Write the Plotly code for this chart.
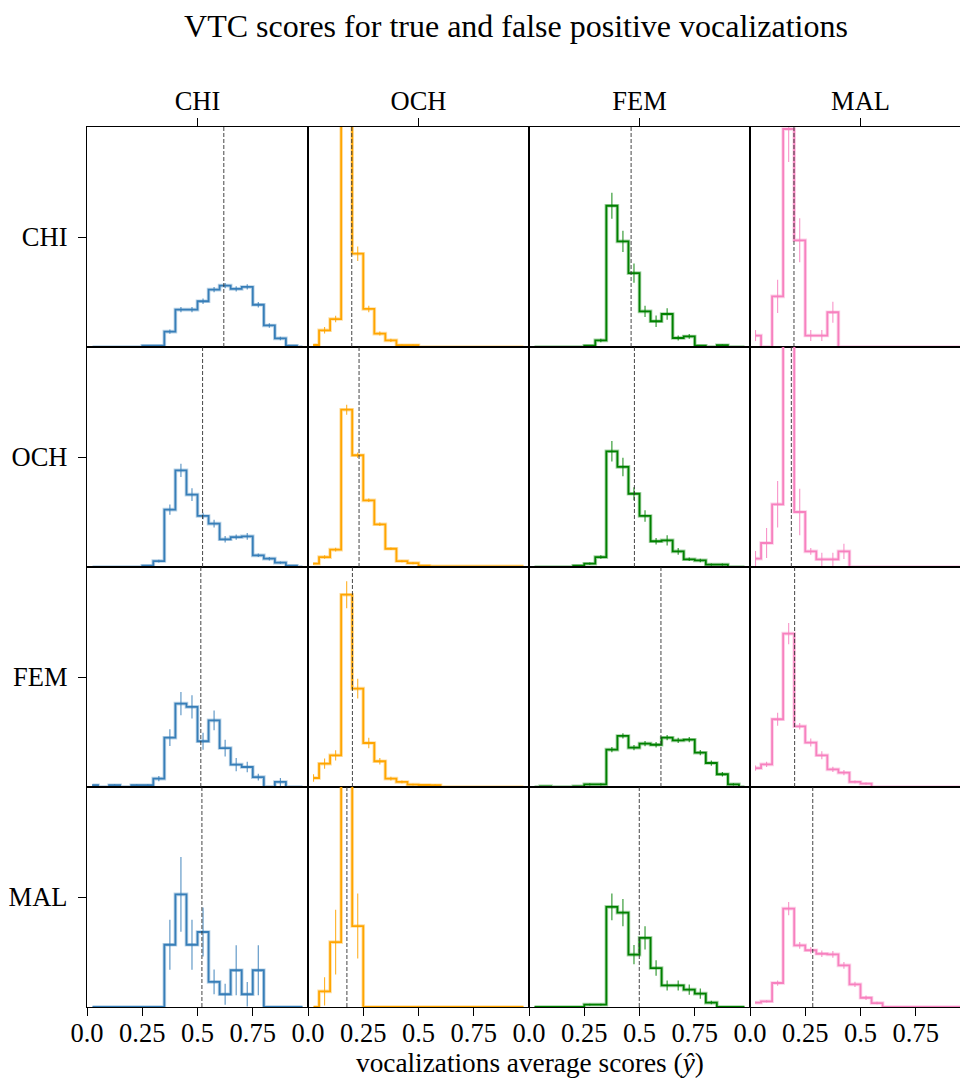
import plotly.graph_objects as go
from plotly.subplots import make_subplots

# ---------------- data ----------------
CLASSES = ["CHI", "OCH", "FEM", "MAL"]
COLORS = ["#377eb8", "#ffa500", "#008000", "#f781bf"]
BIN_CENTERS = [0.025, 0.075, 0.125, 0.175, 0.225, 0.275, 0.325, 0.375, 0.425, 0.475,
               0.525, 0.575, 0.625, 0.675, 0.725, 0.775, 0.825, 0.875, 0.925, 0.975]
X_TICKS = [0.0, 0.25, 0.5, 0.75]
X_TICK_TEXT = ["0.0", "0.25", "0.5", "0.75"]

# row CHI
D_CHI_CHI = [0, 0, 0, 0, 0, 0.06, 0.06, 0.70, 1.70, 1.70, 2.08, 2.61, 2.79, 2.64, 2.73, 1.92, 0.98, 0.39, 0.06, 0]
E_CHI_CHI = [0, 0, 0, 0, 0, 0.02, 0.02, 0.10, 0.12, 0.12, 0.12, 0.12, 0.12, 0.12, 0.12, 0.12, 0.10, 0.08, 0.03, 0]
D_CHI_OCH = [0.09, 0.76, 1.27, 11.3, 4.24, 1.73, 0.61, 0.30, 0.08, 0.08, 0, 0, 0, 0, 0, 0, 0, 0, 0, 0]
E_CHI_OCH = [0.05, 0.15, 0.15, 0.50, 0.33, 0.15, 0.09, 0.07, 0.03, 0.03, 0, 0, 0, 0, 0, 0, 0, 0, 0, 0]
D_CHI_FEM = [0, 0, 0, 0, 0, 0.06, 0.30, 6.42, 4.80, 3.36, 1.62, 1.17, 1.50, 0.41, 0.48, 0.06, 0, 0.08, 0, 0]
E_CHI_FEM = [0, 0, 0, 0, 0, 0.03, 0.08, 0.59, 0.48, 0.44, 0.26, 0.26, 0.26, 0.11, 0.11, 0.03, 0, 0.03, 0, 0]
D_CHI_MAL = [0.52, 0, 2.30, 9.91, 4.85, 0.52, 0.52, 1.58, 0, 0, 0, 0, 0, 0, 0, 0, 0, 0, 0, 0]
E_CHI_MAL = [0.25, 0, 0.76, 1.50, 1.00, 0.25, 0.25, 0.48, 0, 0, 0, 0, 0, 0, 0, 0, 0, 0, 0, 0]

# row OCH
D_OCH_CHI = [0, 0, 0, 0, 0, 0.06, 0.27, 2.61, 4.39, 3.29, 2.32, 1.97, 1.26, 1.36, 1.39, 0.53, 0.38, 0.20, 0.06, 0]
E_OCH_CHI = [0, 0, 0, 0, 0, 0.03, 0.06, 0.23, 0.30, 0.29, 0.15, 0.18, 0.15, 0.12, 0.15, 0.08, 0.08, 0.05, 0.03, 0]
D_OCH_OCH = [0.15, 0.45, 0.79, 7.15, 5.08, 3.03, 1.94, 0.83, 0.27, 0.18, 0.06, 0.03, 0.03, 0.03, 0.03, 0.03, 0.03, 0.03, 0.03, 0.03]
E_OCH_OCH = [0.05, 0.08, 0.08, 0.23, 0.12, 0.08, 0.08, 0.06, 0.05, 0.05, 0.03, 0, 0, 0, 0, 0, 0, 0, 0, 0]
D_OCH_FEM = [0, 0, 0, 0, 0.06, 0.15, 0.45, 5.26, 4.55, 3.33, 2.32, 1.17, 1.21, 0.71, 0.35, 0.30, 0.11, 0.11, 0, 0]
E_OCH_FEM = [0, 0, 0, 0, 0.03, 0.05, 0.08, 0.47, 0.42, 0.30, 0.26, 0.15, 0.23, 0.15, 0.08, 0.08, 0.05, 0.05, 0, 0]
D_OCH_MAL = [0.38, 1.09, 2.85, 11.3, 2.50, 0.71, 0.35, 0.35, 0.71, 0, 0, 0, 0, 0, 0, 0, 0, 0, 0, 0]
E_OCH_MAL = [0.35, 0.68, 1.06, 1.00, 1.06, 0.15, 0.30, 0.30, 0.35, 0, 0, 0, 0, 0, 0, 0, 0, 0, 0, 0]

# row FEM
D_FEM_CHI = [0.08, 0, 0.08, 0, 0.08, 0.08, 0.38, 2.24, 3.79, 3.64, 2.08, 3.03, 1.77, 1.02, 0.91, 0.45, 0, 0.23, 0, 0]
E_FEM_CHI = [0.04, 0, 0.04, 0, 0.04, 0.04, 0.12, 0.38, 0.53, 0.53, 0.39, 0.45, 0.38, 0.30, 0.24, 0.15, 0, 0.18, 0, 0]
D_FEM_OCH = [0.41, 1.06, 1.44, 8.74, 4.47, 2.00, 1.17, 0.38, 0.23, 0.11, 0.09, 0.08, 0, 0, 0, 0, 0, 0, 0, 0]
E_FEM_OCH = [0.17, 0.23, 0.23, 0.61, 0.45, 0.24, 0.15, 0.09, 0.06, 0.04, 0.04, 0.04, 0, 0, 0, 0, 0, 0, 0, 0]
D_FEM_FEM = [0, 0.03, 0, 0, 0.03, 0.12, 0.12, 1.70, 2.32, 1.79, 1.97, 1.92, 2.24, 2.12, 2.15, 1.56, 1.09, 0.58, 0.12, 0]
E_FEM_FEM = [0, 0.02, 0, 0, 0.02, 0.05, 0.05, 0.12, 0.12, 0.12, 0.12, 0.12, 0.12, 0.12, 0.12, 0.12, 0.12, 0.10, 0.05, 0]
D_FEM_MAL = [0.86, 1.03, 3.08, 6.97, 2.76, 2.02, 1.44, 0.80, 0.65, 0.23, 0.15, 0, 0, 0, 0, 0, 0, 0, 0, 0]
E_FEM_MAL = [0.12, 0.12, 0.30, 0.48, 0.15, 0.18, 0.18, 0.12, 0.12, 0.06, 0.05, 0, 0, 0, 0, 0, 0, 0, 0, 0]

# row MAL
D_MAL_CHI = [0, 0, 0, 0, 0, 0, 0, 2.83, 5.12, 2.83, 3.41, 1.14, 0.58, 1.67, 0.58, 1.67, 0, 0, 0, 0]
E_MAL_CHI = [0, 0, 0, 0, 0, 0, 0, 1.14, 1.70, 1.14, 1.11, 0.56, 0.48, 1.14, 0.56, 1.14, 0, 0, 0, 0]
D_MAL_OCH = [0, 0.71, 2.95, 12.8, 3.68, 0, 0, 0, 0, 0, 0, 0, 0, 0, 0, 0, 0, 0, 0, 0]
E_MAL_OCH = [0, 0.64, 1.47, 1.50, 1.48, 0, 0, 0, 0, 0, 0, 0, 0, 0, 0, 0, 0, 0, 0, 0]
D_MAL_FEM = [0, 0, 0, 0, 0, 0.11, 0.11, 4.55, 4.29, 2.38, 3.14, 1.77, 0.98, 0.98, 0.79, 0.61, 0.20, 0, 0, 0]
E_MAL_FEM = [0, 0, 0, 0, 0, 0.04, 0.04, 0.61, 0.62, 0.44, 0.53, 0.35, 0.23, 0.23, 0.23, 0.23, 0.08, 0, 0, 0]
D_MAL_MAL = [0.20, 0.26, 1.09, 4.47, 2.80, 2.58, 2.42, 2.39, 1.89, 1.03, 0.42, 0.18, 0, 0, 0, 0, 0, 0, 0, 0]
E_MAL_MAL = [0.05, 0.05, 0.12, 0.30, 0.15, 0.15, 0.15, 0.15, 0.15, 0.12, 0.10, 0.06, 0, 0, 0, 0, 0, 0, 0, 0]

# mean score (dashed line) per panel, one list per row
MEAN_CHI = [0.619, 0.198, 0.462, 0.199]
MEAN_OCH = [0.523, 0.231, 0.477, 0.187]
MEAN_FEM = [0.515, 0.201, 0.597, 0.202]
MEAN_MAL = [0.520, 0.176, 0.499, 0.284]

Y_MAX = 10.0

# ---------------- assemble ----------------
DATA = [
    [D_CHI_CHI, D_CHI_OCH, D_CHI_FEM, D_CHI_MAL],
    [D_OCH_CHI, D_OCH_OCH, D_OCH_FEM, D_OCH_MAL],
    [D_FEM_CHI, D_FEM_OCH, D_FEM_FEM, D_FEM_MAL],
    [D_MAL_CHI, D_MAL_OCH, D_MAL_FEM, D_MAL_MAL],
]
ERRS = [
    [E_CHI_CHI, E_CHI_OCH, E_CHI_FEM, E_CHI_MAL],
    [E_OCH_CHI, E_OCH_OCH, E_OCH_FEM, E_OCH_MAL],
    [E_FEM_CHI, E_FEM_OCH, E_FEM_FEM, E_FEM_MAL],
    [E_MAL_CHI, E_MAL_OCH, E_MAL_FEM, E_MAL_MAL],
]
MEANS = [MEAN_CHI, MEAN_OCH, MEAN_FEM, MEAN_MAL]

FONT = "Liberation Serif"
# page has an 8px body margin: figure is drawn from (8, 8)
OFF = 8
W, H = 968 - OFF, 1084 - OFF
ML, MR, MT, MB = 87 - OFF, 0, 127 - OFF, (1084 - OFF) - (1007 - OFF)
COL_W = [221, 221, 221, 218]
LAST_XMAX = COL_W[3] / COL_W[0]

fig = make_subplots(rows=4, cols=4, horizontal_spacing=0, vertical_spacing=0,
                    column_widths=COL_W)


def hex_rgba(h, a):
    h = h.lstrip("#")
    return "rgba(%d,%d,%d,%.2f)" % (int(h[0:2], 16), int(h[2:4], 16), int(h[4:6], 16), a)


for r in range(4):
    for c in range(4):
        vals = DATA[r][c]
        errs = ERRS[r][c]
        col = COLORS[c]
        fig.add_trace(go.Scatter(x=BIN_CENTERS, y=vals, mode="lines",
                                 line=dict(color=hex_rgba(col, 0.35), width=3.6, shape="hvh"),
                                 hoverinfo="skip", showlegend=False), row=r + 1, col=c + 1)
        fig.add_trace(go.Scatter(x=BIN_CENTERS, y=vals, mode="lines",
                                 line=dict(color=col, width=1.8, shape="hvh"),
                                 showlegend=False), row=r + 1, col=c + 1)
        ex = [x for x, e in zip(BIN_CENTERS, errs) if e > 0]
        ey = [v for v, e in zip(vals, errs) if e > 0]
        ee = [e for e in errs if e > 0]
        fig.add_trace(go.Scatter(x=ex, y=ey, mode="markers",
                                 marker=dict(size=1, color="rgba(0,0,0,0)"),
                                 error_y=dict(type="data", array=ee, visible=True, width=0,
                                              thickness=1.1, color=hex_rgba(col, 0.85)),
                                 hoverinfo="skip", showlegend=False), row=r + 1, col=c + 1)
        idx = r * 4 + c + 1
        sfx = "" if idx == 1 else str(idx)
        fig.add_shape(type="line", xref="x" + sfx, yref="y" + sfx + " domain",
                      x0=MEANS[r][c], x1=MEANS[r][c], y0=0, y1=1,
                      line=dict(color="rgba(50,50,50,0.9)", width=1, dash="4px,2px"))

tickfont = dict(family=FONT, size=26.5, color="black")
for r in range(4):
    for c in range(4):
        xr = [0, 1] if c < 3 else [0, LAST_XMAX]
        xa = dict(range=xr, showgrid=False, zeroline=False, showline=True, linecolor="black",
                  linewidth=1.4, mirror=True, tickfont=tickfont)
        if r == 0:
            xa.update(side="top", tickmode="array", tickvals=[0.5], ticktext=[CLASSES[c]],
                      ticks="outside", ticklen=8, tickwidth=1.4, tickcolor="black",
                      ticklabelstandoff=-3)
        elif r == 3:
            xa.update(tickmode="array", tickvals=X_TICKS, ticktext=X_TICK_TEXT,
                      ticks="outside", ticklen=8, tickwidth=1.4, tickcolor="black",
                      ticklabelstandoff=-6)
        else:
            xa.update(showticklabels=False, ticks="")
        fig.update_xaxes(row=r + 1, col=c + 1, **xa)

        ya = dict(range=[0, Y_MAX], showgrid=False, zeroline=False, showline=True,
                  linecolor="black", linewidth=1.4, mirror=(c < 3), tickfont=tickfont)
        if c == 0:
            ya.update(tickmode="array", tickvals=[Y_MAX / 2], ticktext=[CLASSES[r]],
                      ticks="outside", ticklen=8, tickwidth=1.4, tickcolor="black",
                      ticklabelstandoff=5)
        else:
            ya.update(showticklabels=False, ticks="")
        fig.update_yaxes(row=r + 1, col=c + 1, **ya)

pw = W - ML - MR
ph = H - MT - MB
fig.update_layout(
    width=W, height=H,
    margin=dict(l=ML, r=MR, t=MT, b=MB, pad=0),
    plot_bgcolor="white", paper_bgcolor="white",
    showlegend=False,
    font=dict(family=FONT, color="black"),
    title=dict(text="VTC scores for true and false positive vocalizations",
               font=dict(family=FONT, size=32, color="black"),
               x=(516 - OFF) / W, xanchor="center", xref="container",
               y=1 - (26 - OFF) / H, yanchor="middle", yref="container"),
)
fig.add_annotation(text="vocalizations average scores (<i>ŷ</i>)", xref="paper", yref="paper",
                   x=(530 - 87) / pw, y=-(1063 - 1007) / ph, xanchor="center", yanchor="middle",
                   showarrow=False, font=dict(family=FONT, size=27.3, color="black"))

fig.write_html("out.html")
